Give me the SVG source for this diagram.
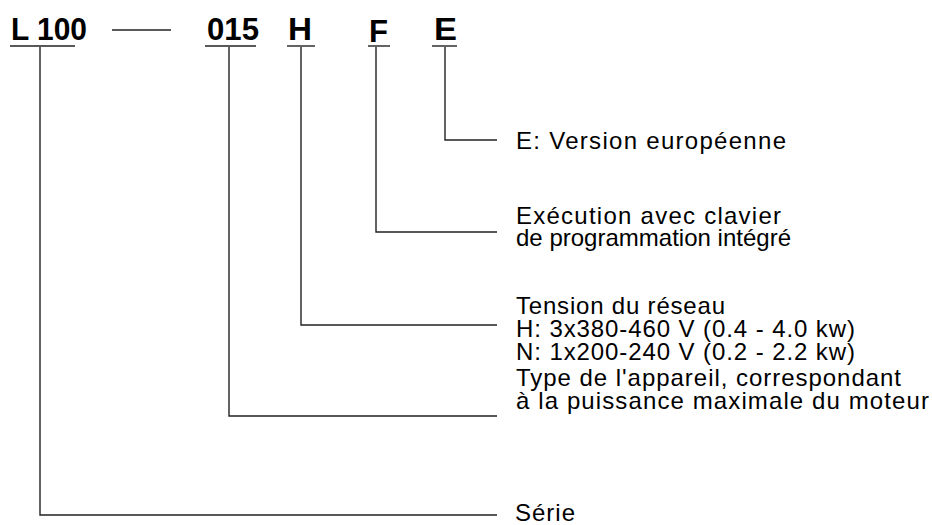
<svg xmlns="http://www.w3.org/2000/svg" width="932" height="525" viewBox="0 0 932 525">
<style>
.code{font-family:"Liberation Sans",Arial,sans-serif;font-weight:bold;font-size:32px;fill:#000}
.lbl{font-family:"Liberation Sans",Arial,sans-serif;font-size:24px;fill:#000}
.ln{stroke:#222;stroke-width:1.4;fill:none}
</style>
<rect width="932" height="525" fill="#fff"/>
<g id="code-L100">
<text class="code" x="11" y="40" textLength="76" lengthAdjust="spacingAndGlyphs">L 100</text>
<line class="ln" x1="10" y1="46" x2="75" y2="46"/>
</g>
<g id="code-dash"><line class="ln" x1="112" y1="30" x2="171" y2="30"/></g>
<g id="code-015">
<text class="code" x="207" y="40" textLength="52" lengthAdjust="spacingAndGlyphs">015</text>
<line class="ln" x1="205" y1="46" x2="256" y2="46"/>
</g>
<g id="code-H">
<text class="code" x="288" y="40" textLength="24" lengthAdjust="spacingAndGlyphs">H</text>
<line class="ln" x1="287" y1="46" x2="315" y2="46"/>
</g>
<g id="code-F">
<text class="code" x="369" y="42" textLength="19" lengthAdjust="spacingAndGlyphs">F</text>
<line class="ln" x1="368" y1="46" x2="390" y2="46"/>
</g>
<g id="code-E">
<text class="code" x="434" y="40" textLength="23" lengthAdjust="spacingAndGlyphs">E</text>
<line class="ln" x1="432" y1="46" x2="457" y2="46"/>
</g>
<g id="connectors">
<polyline class="ln" points="445,47 445,140 497,140"/>
<polyline class="ln" points="376,47 376,232 497,232"/>
<polyline class="ln" points="301,47 301,325 497,325"/>
<polyline class="ln" points="229,47 229,416 497,416"/>
<polyline class="ln" points="40,47 40,515 497,515"/>
</g>
<g id="label-E">
<text class="lbl" x="516" y="149" textLength="270" lengthAdjust="spacing">E: Version européenne</text>
</g>
<g id="label-F">
<text class="lbl" x="516" y="224" textLength="265" lengthAdjust="spacing">Exécution avec clavier</text>
<text class="lbl" x="516" y="246" textLength="275" lengthAdjust="spacing">de programmation intégré</text>
</g>
<g id="label-H">
<text class="lbl" x="516" y="314" textLength="209" lengthAdjust="spacing">Tension du réseau</text>
<text class="lbl" x="516" y="337" textLength="339" lengthAdjust="spacing">H: 3x380-460 V (0.4 - 4.0 kw)</text>
<text class="lbl" x="516" y="360" textLength="339" lengthAdjust="spacing">N: 1x200-240 V (0.2 - 2.2 kw)</text>
</g>
<g id="label-015">
<text class="lbl" x="516" y="386" textLength="385" lengthAdjust="spacing">Type de l'appareil, correspondant</text>
<text class="lbl" x="516" y="409" textLength="413" lengthAdjust="spacing">à la puissance maximale du moteur</text>
</g>
<g id="label-L100">
<text class="lbl" x="515" y="521" textLength="60" lengthAdjust="spacing">Série</text>
</g>
</svg>
